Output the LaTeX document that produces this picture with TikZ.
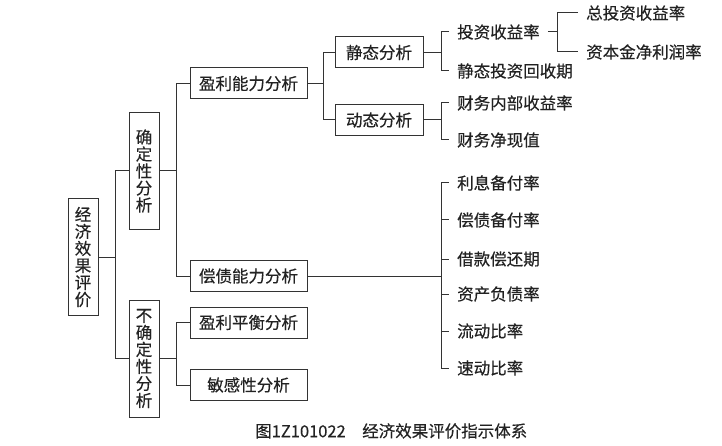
\documentclass[tikz,border=0pt]{standalone}
\usepackage{fontspec}
\setmainfont{Noto Sans CJK SC}[FakeBold=0.35]
\usepackage{tikz}
\definecolor{ln}{HTML}{333333}
\definecolor{txt}{HTML}{222222}

\begin{document}
\begin{tikzpicture}[
        x=1pt,y=-1pt,
        every node/.style={font=\fontsize{16.5}{17}\selectfont,text=txt,inner sep=0pt},
        box/.style={draw=ln,line width=1pt,fill=white,minimum width=117pt,minimum height=31pt},
        vbox/.style={box,minimum width=30pt,minimum height=117pt,text width=17pt,align=center},
        sbox/.style={box,minimum width=88pt},
        leaf/.style={anchor=west,inner xsep=8pt},
        link/.style={draw=ln,line width=1pt}
    ]
        \useasboundingbox (0,0) rectangle (722,446);

        \node[vbox] (root) at (83,257) {经\\济\\效\\果\\评\\价};
        \node[vbox] (sure) at (144,171) {确\\定\\性\\分\\析};
        \node[vbox] (unsure) at (144,358.5) {不\\确\\定\\性\\分\\析};
        \node[box] (prof) at (248.5,83.5) {盈利能力分析};
        \node[box] (debt) at (248.5,276) {偿债能力分析};
        \node[box] (bep) at (248.5,322.5) {盈利平衡分析};
        \node[box] (sens) at (248.5,385) {敏感性分析};
        \node[sbox] (stat) at (379,52.5) {静态分析};
        \node[sbox] (dyn) at (379,120) {动态分析};

        \node[leaf] (roi) at (449,32) {投资收益率};
        \node[leaf] (spp) at (449,71) {静态投资回收期};
        \node[leaf] (firr) at (449,103) {财务内部收益率};
        \node[leaf] (npv) at (449,140) {财务净现值};
        \node[leaf] (icr) at (449,183) {利息备付率};
        \node[leaf] (dscr) at (449,220) {偿债备付率};
        \node[leaf] (lpp) at (449,259) {借款偿还期};
        \node[leaf] (lar) at (449,294) {资产负债率};
        \node[leaf] (cr) at (449,331) {流动比率};
        \node[leaf] (qr) at (449,368) {速动比率};
        \node[leaf] (tot) at (578,13) {总投资收益率};
        \node[leaf] (cap) at (578,52) {资本金净利润率};

        \node[anchor=west] (title) at (255,431) {图1Z101022\quad 经济效果评价指示体系};

        \draw[link] (root.east) -- ++(17,0) coordinate (j1);
        \draw[link] (sure.west) -| (j1) |- (unsure.west);
        \draw[link] (sure.east) -- ++(17,0) coordinate (j2);
        \draw[link] (prof.west) -| (j2) |- (debt.west);
        \draw[link] (unsure.east) -- ++(17,0) coordinate (j3);
        \draw[link] (bep.west) -| (j3) |- (sens.west);
        \draw[link] (prof.east) -- ++(16,0) coordinate (j4);
        \draw[link] (stat.west) -| (j4) |- (dyn.west);

        \draw[link] (stat.east) -- ++(18,0) coordinate (j5);
        \draw[link] (roi.west) -| (j5) |- (spp.west);
        \draw[link] (dyn.east) -- ++(18,0) coordinate (j6);
        \draw[link] (firr.west) -| (j6) |- (npv.west);
        \draw[link] (debt.east) -- ++(134,0) coordinate (j7);
        \draw[link] (icr.west) -| (j7) |- (qr.west);
        \foreach \n in {dscr,lpp,lar,cr}
            \draw[link] (j7 |- \n.west) -- (\n.west);
        \draw[link] (roi.east) -- ++(10,0) coordinate (j8);
        \draw[link] (tot.west) -| (j8) |- (cap.west);
    \end{tikzpicture}
\end{document}
